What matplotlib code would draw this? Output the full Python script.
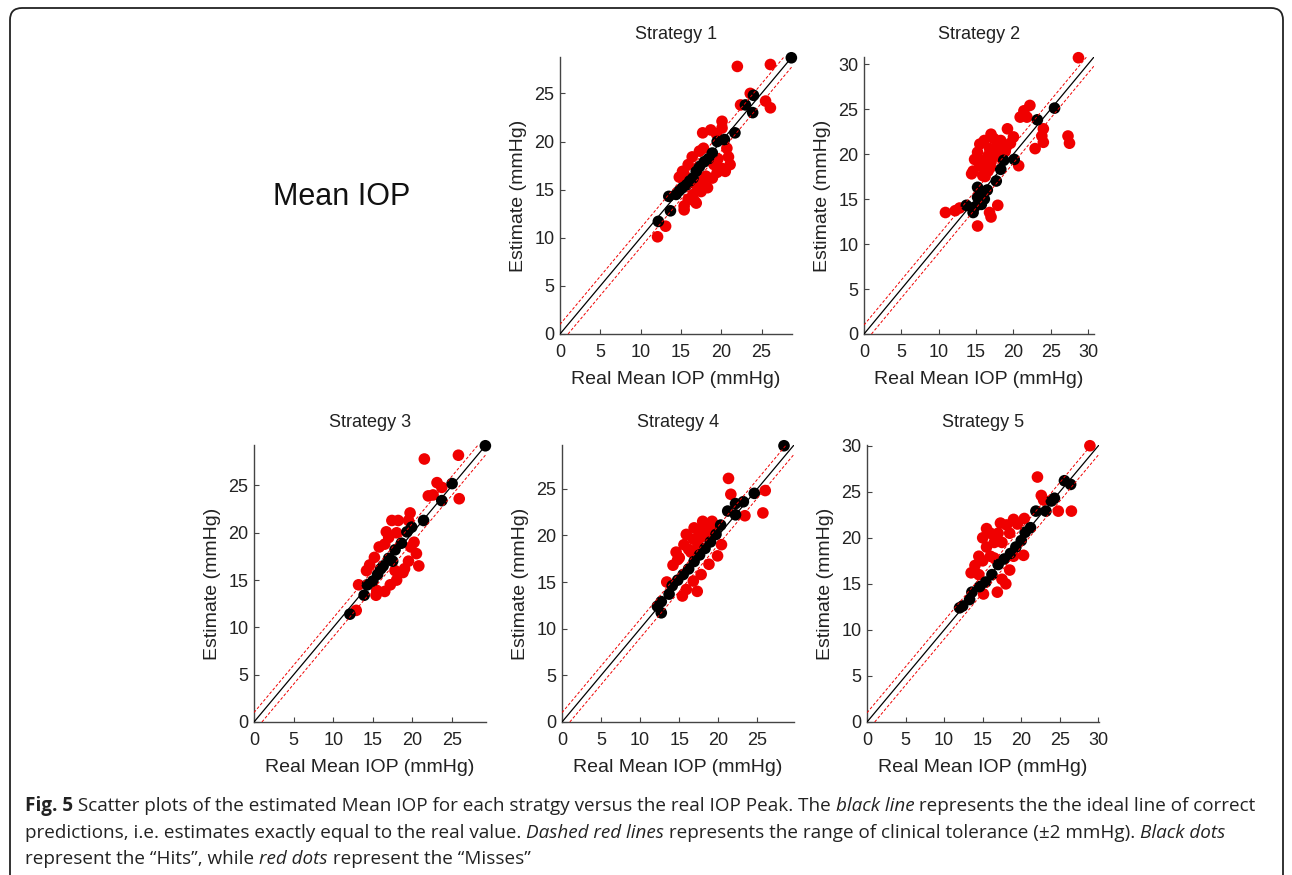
import numpy as np
import matplotlib
matplotlib.use("Agg")
import matplotlib.pyplot as plt
from matplotlib.patches import FancyBboxPatch
from matplotlib.transforms import IdentityTransform

# ---------------- data (real IOP, estimated IOP) ----------------
s1_hit_real = [28.7, 24.0, 23.0, 23.9, 21.7, 20.4, 19.5, 18.9, 17.9, 16.9, 16.1, 15.2, 14.4, 13.5, 13.7, 12.2, 17.3, 15.7, 18.4, 14.8, 16.5]
s1_hit_est  = [28.7, 24.8, 23.8, 23.0, 20.9, 20.2, 20.0, 18.8, 17.9, 16.9, 15.9, 15.2, 14.5, 14.3, 12.8, 11.7, 17.4, 15.5, 18.2, 14.9, 16.2]
s1_miss_real = [22.0, 26.1, 23.6, 22.4, 25.5, 26.1, 20.1, 20.1, 17.7, 18.7, 19.4, 17.3, 20.7, 20.9, 19.6, 21.1, 20.1, 19.1, 15.9, 15.2,
                15.4, 20.5, 18.1, 18.9, 17.7, 16.9, 17.5, 16.5, 15.9, 16.9, 15.4, 15.4, 13.1, 12.1, 16.4, 17.8, 16.7, 19.5, 18.3, 14.8]
s1_miss_est  = [27.8, 28.0, 25.0, 23.8, 24.2, 23.5, 22.1, 21.4, 20.9, 21.2, 20.8, 19.0, 19.3, 18.4, 18.2, 17.6, 17.2, 17.6, 17.6, 16.9,
                16.6, 16.9, 16.4, 16.2, 15.9, 15.5, 14.8, 14.5, 14.0, 13.6, 13.3, 12.9, 11.2, 10.1, 18.4, 19.3, 13.8, 16.8, 15.2, 16.3]

s2_hit_real = [25.5, 23.2, 20.1, 18.3, 17.7, 15.2, 15.7, 15.2, 16.1, 15.7, 14.8, 13.7, 14.6, 18.7, 16.5]
s2_hit_est  = [25.1, 23.8, 19.4, 18.3, 17.0, 16.3, 15.7, 15.2, 15.0, 14.4, 14.1, 14.3, 13.5, 19.3, 16.0]
s2_miss_real = [28.7, 22.2, 21.4, 20.9, 21.8, 19.2, 24.0, 23.8, 24.0, 22.9, 27.3, 27.5, 20.7, 17.0, 16.1, 15.5, 17.4, 18.3, 20.0, 19.6,
                19.0, 16.8, 15.2, 17.5, 18.3, 18.9, 14.8, 16.1, 17.0, 15.5, 14.6, 16.6, 15.9, 16.2, 16.9, 14.4, 12.2, 12.8, 10.9, 17.9,
                17.0, 15.2, 16.8, 17.7, 16.6]
s2_miss_est  = [30.7, 25.4, 24.8, 24.1, 24.1, 22.8, 22.8, 22.0, 21.3, 20.6, 22.0, 21.2, 18.7, 22.2, 21.5, 21.1, 21.7, 21.5, 21.9, 21.2,
                20.7, 20.6, 20.2, 20.0, 19.6, 20.3, 19.4, 19.3, 19.1, 18.7, 18.1, 18.1, 17.6, 17.5, 18.5, 17.8, 13.7, 14.0, 13.5, 14.3,
                13.0, 12.0, 13.5, 20.6, 19.8]

s3_hit_real = [29.2, 25.0, 23.7, 21.4, 19.9, 19.3, 18.6, 17.8, 17.0, 16.3, 15.6, 15.0, 14.3, 13.9, 12.1, 17.5, 16.0]
s3_hit_est  = [29.2, 25.2, 23.4, 21.3, 20.6, 20.1, 18.9, 18.2, 17.3, 16.5, 15.6, 14.9, 14.5, 13.4, 11.4, 17.0, 16.2]
s3_miss_real = [21.5, 25.8, 23.1, 23.7, 22.0, 22.6, 25.9, 19.7, 19.5, 17.4, 18.2, 16.7, 18.0, 15.8, 16.5, 17.0, 15.2, 14.6, 13.2,
                19.8, 20.5, 19.5, 20.8, 18.8, 18.0, 17.2, 16.5, 15.5, 12.9, 15.4, 19.0, 20.2, 17.8, 14.2]
s3_miss_est  = [27.8, 28.2, 25.3, 24.8, 23.9, 24.0, 23.6, 22.1, 21.3, 21.3, 21.3, 20.1, 20.0, 18.5, 18.8, 19.5, 17.4, 16.6, 14.5,
                18.5, 17.8, 17.0, 16.5, 15.8, 15.0, 14.5, 13.8, 13.9, 11.8, 13.4, 16.2, 19.0, 16.0, 16.0]

s4_hit_real = [28.4, 24.6, 23.2, 22.2, 21.2, 22.2, 20.3, 19.7, 19.0, 18.3, 17.6, 16.9, 16.2, 15.5, 14.8, 14.1, 13.7, 12.7, 12.2, 12.7]
s4_hit_est  = [29.6, 24.5, 23.6, 23.4, 22.6, 22.2, 21.1, 20.1, 19.3, 18.6, 17.9, 17.2, 16.4, 15.8, 15.2, 14.6, 13.7, 12.9, 12.4, 11.7]
s4_miss_real = [21.3, 21.6, 26.0, 23.4, 25.7, 18.0, 19.2, 16.9, 15.9, 19.9, 15.4, 17.3, 17.5, 16.8, 15.6, 14.6, 18.2, 17.4, 16.2,
                15.0, 14.2, 13.4, 18.6, 17.8, 16.5, 19.2, 20.4, 18.8, 16.8, 15.9, 17.8, 14.8]
s4_miss_est  = [26.1, 24.4, 24.8, 22.1, 22.4, 21.5, 21.5, 20.8, 20.1, 17.8, 13.5, 14.0, 20.5, 19.6, 19.0, 18.2, 20.6, 18.9, 18.5,
                17.6, 16.8, 15.0, 20.0, 19.8, 18.2, 21.0, 19.0, 16.9, 15.1, 14.2, 15.8, 17.4]

s5_hit_real = [25.6, 26.4, 24.3, 23.9, 23.2, 21.9, 21.2, 20.5, 20.0, 19.3, 18.6, 17.8, 17.0, 16.2, 15.4, 14.6, 13.6, 13.3, 12.4, 12.0]
s5_hit_est  = [26.2, 25.8, 24.3, 24.0, 22.9, 22.9, 21.1, 20.6, 19.7, 19.0, 18.3, 17.7, 17.1, 16.0, 15.2, 14.7, 14.1, 13.3, 12.6, 12.4]
s5_miss_real = [28.9, 22.1, 22.6, 22.9, 24.8, 26.5, 20.4, 19.0, 18.1, 17.3, 15.5, 15.0, 16.0, 17.0, 15.5, 14.5, 16.5, 17.5, 18.5,
                14.0, 15.0, 13.5, 14.5, 16.5, 19.5, 20.3, 18.5, 17.5, 18.0, 15.1, 16.9, 16.0, 19.0]
s5_miss_est  = [30.0, 26.6, 24.6, 24.1, 22.9, 22.9, 22.1, 22.0, 21.4, 21.6, 21.0, 20.0, 20.5, 20.5, 19.0, 18.0, 19.5, 19.5, 20.5,
                17.0, 17.5, 16.2, 16.0, 17.8, 21.5, 18.1, 16.5, 15.5, 15.0, 13.9, 14.1, 18.0, 18.0]

titles = ["Strategy 1", "Strategy 2", "Strategy 3", "Strategy 4", "Strategy 5"]
x_label = "Real Mean IOP (mmHg)"
y_label = "Estimate (mmHg)"
tolerance = 1.0

hits_real = [s1_hit_real, s2_hit_real, s3_hit_real, s4_hit_real, s5_hit_real]
hits_est = [s1_hit_est, s2_hit_est, s3_hit_est, s4_hit_est, s5_hit_est]
miss_real = [s1_miss_real, s2_miss_real, s3_miss_real, s4_miss_real, s5_miss_real]
miss_est = [s1_miss_est, s2_miss_est, s3_miss_est, s4_miss_est, s5_miss_est]

# ---------------- layout ----------------
W, H = 1292, 875
fig = plt.figure(figsize=(W / 100, H / 100), dpi=100)
FONT = ["Liberation Sans", "DejaVu Sans"]
plt.rcParams["font.family"] = FONT

# axes boxes in pixels: (left, top, right, bottom)
boxes = [(560, 57, 792, 334), (864, 57, 1094, 334),
         (254, 445, 486, 722), (562, 445, 794, 722), (867, 445, 1099, 722)]

RED = "#f00000"
AX_COL = "#444444"
TXT = "#222222"

for i, (l, t, r, b) in enumerate(boxes):
    ax = fig.add_axes([l / W, 1 - b / H, (r - l) / W, (b - t) / H])
    allv = hits_real[i] + hits_est[i] + miss_real[i] + miss_est[i]
    lim = max(allv) + 0.08
    ax.scatter(miss_real[i], miss_est[i], s=70, color=RED, edgecolors="none", zorder=2, clip_on=False)
    ax.scatter(hits_real[i], hits_est[i], s=70, color="black", edgecolors="none", zorder=2.5, clip_on=False)
    ax.plot([0, lim], [0, lim], color="black", lw=0.9, zorder=3)
    ax.plot([0, lim - tolerance], [tolerance, lim], color=RED, lw=0.7, ls=(0, (3, 2)), zorder=3)
    ax.plot([tolerance, lim], [0, lim - tolerance], color=RED, lw=0.7, ls=(0, (3, 2)), zorder=3)
    ax.set_xlim(0, lim)
    ax.set_ylim(0, lim)
    ticks = np.arange(0, lim + 0.01, 5)
    ax.set_xticks(ticks)
    ax.set_yticks(ticks)
    ax.set_xticklabels([f"{v:g}" for v in ticks])
    ax.set_yticklabels([f"{v:g}" for v in ticks])
    for s in ("top", "right"):
        ax.spines[s].set_visible(False)
    for s in ("left", "bottom"):
        ax.spines[s].set_color(AX_COL)
        ax.spines[s].set_linewidth(1.0)
    ax.tick_params(direction="in", length=3.5, width=0.8, colors=AX_COL,
                   labelcolor=TXT, labelsize=13)
    ax.tick_params(axis="x", pad=7.5)
    ax.tick_params(axis="y", pad=4)
    ax.set_title(titles[i], fontsize=13, color=TXT, pad=13)
    ax.set_xlabel(x_label, fontsize=14, color=TXT, labelpad=7)
    ax.set_ylabel(y_label, fontsize=14, color=TXT, labelpad=5)

fig.text(273 / W, 1 - 197 / H, "Mean IOP", fontsize=22, color="#111111",
         ha="left", va="center")

# ---------------- figure border ----------------
border = FancyBboxPatch((10, -30), 1273, H - 8 + 30,
                        boxstyle="round,pad=0,rounding_size=12",
                        transform=IdentityTransform(), facecolor="none",
                        edgecolor="#222222", lw=1.3)
fig.patches.append(border)

# ---------------- caption ----------------
cap_family = ["Open Sans", "DejaVu Sans"]
renderer = fig.canvas.get_renderer()

def text_width(txt, size, weight, style):
    probe = fig.text(0, 0, "|" + txt + "|", fontsize=size, family=cap_family,
                     fontweight=weight, fontstyle=style)
    w1 = probe.get_window_extent(renderer).width
    probe.set_text("||")
    w2 = probe.get_window_extent(renderer).width
    probe.remove()
    return w1 - w2

lines = [
    [("Fig. 5", "bold", "normal"),
     (" Scatter plots of the estimated Mean IOP for each stratgy versus the real IOP Peak. The ", "normal", "normal"),
     ("black line", "normal", "italic"),
     (" represents the the ideal line of correct", "normal", "normal")],
    [("predictions, i.e. estimates exactly equal to the real value. ", "normal", "normal"),
     ("Dashed red lines", "normal", "italic"),
     (" represents the range of clinical tolerance (\u00b12 mmHg). ", "normal", "normal"),
     ("Black dots", "normal", "italic")],
    [("represent the \u201cHits\u201d, while ", "normal", "normal"),
     ("red dots", "normal", "italic"),
     (" represent the \u201cMisses\u201d", "normal", "normal")],
]

base_size = 12.0
w_line1 = sum(text_width(t, base_size, wt, st) for t, wt, st in lines[0])
cap_size = base_size * 1222 / w_line1
baselines = [811, 838, 864]
for parts, yb in zip(lines, baselines):
    x = 25
    for t, wt, st in parts:
        fig.text(x / W, 1 - yb / H, t, fontsize=cap_size, family=cap_family,
                 fontweight=wt, fontstyle=st, color="#222222",
                 ha="left", va="baseline")
        x += text_width(t, cap_size, wt, st)

fig.savefig("out.png", dpi=100)
